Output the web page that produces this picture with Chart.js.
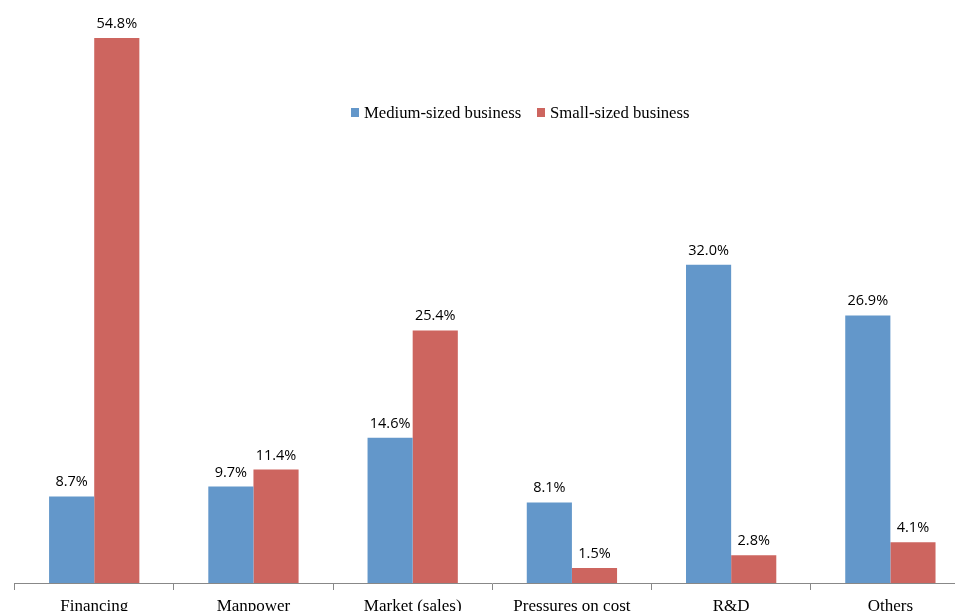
<!DOCTYPE html>
<html>
<head>
<meta charset="utf-8">
<script src="https://cdn.jsdelivr.net/npm/chart.js@4.4.1/dist/chart.umd.min.js"></script>
<style>
html,body{margin:0;padding:0;background:#fff;overflow:hidden;width:955px;height:611px;}
#wrap{position:relative;width:975px;height:630px;}
</style>
</head>
<body>
<div id="wrap"><canvas id="c" width="975" height="630"></canvas></div>
<script>
const categories = ["Financing", "Manpower", "Market (sales)", "Pressures on cost", "R&D", "Others"];
const seriesNames = ["Medium-sized business", "Small-sized business"];
const mediumValues = [8.7, 9.7, 14.6, 8.1, 32.0, 26.9];
const smallValues = [54.8, 11.4, 25.4, 1.5, 2.8, 4.1];
const colors = ["#6397CA", "#CD655F"];

const labelPlugin = {
  id: 'valueLabels',
  afterDatasetsDraw(chart) {
    const ctx = chart.ctx;
    ctx.save();
    ctx.font = '14.5px "Open Sans", "Liberation Sans", sans-serif';
    ctx.fillStyle = '#000';
    ctx.textAlign = 'center';
    ctx.textBaseline = 'alphabetic';
    chart.data.datasets.forEach((ds, i) => {
      const meta = chart.getDatasetMeta(i);
      meta.data.forEach((bar, j) => {
        ctx.fillText(ds.data[j].toFixed(1) + '%', bar.x, bar.y - 10);
      });
    });
    ctx.restore();
  }
};

const legendPlugin = {
  id: 'customLegend',
  afterDraw(chart) {
    const ctx = chart.ctx;
    ctx.save();
    ctx.font = '16.7px "Liberation Serif", "Times New Roman", serif';
    ctx.textBaseline = 'middle';
    ctx.textAlign = 'left';
    const xs = [351, 537];
    const y = 113;
    chart.data.datasets.forEach((ds, i) => {
      ctx.fillStyle = ds.backgroundColor;
      ctx.fillRect(xs[i], y - 5, 8, 9);
      ctx.fillStyle = '#000';
      ctx.fillText(ds.label, xs[i] + 13, y + 1);
    });
    ctx.restore();
  }
};

new Chart(document.getElementById('c'), {
  type: 'bar',
  data: {
    labels: categories,
    datasets: [
      { label: seriesNames[0], data: mediumValues, backgroundColor: colors[0] },
      { label: seriesNames[1], data: smallValues, backgroundColor: colors[1] }
    ]
  },
  options: {
    responsive: false,
    animation: false,
    layout: { padding: { left: 14.6, right: 5, top: 0, bottom: 0 } },
    plugins: { legend: { display: false }, tooltip: { enabled: false } },
    datasets: { bar: { categoryPercentage: 0.567, barPercentage: 1.0 } },
    scales: {
      x: {
        grid: { display: true, drawOnChartArea: false, drawTicks: true, tickLength: 7, color: '#888', offset: true },
        border: { display: true, color: '#888', width: 1 },
        ticks: { color: '#000', font: { family: '"Liberation Serif", "Times New Roman", serif', size: 17 }, padding: 6, maxRotation: 0, autoSkip: false },
        afterFit(scale) { scale.height = 47; }
      },
      y: {
        display: false,
        min: 0,
        max: 58.62
      }
    }
  },
  plugins: [labelPlugin, legendPlugin]
});
</script>
</body>
</html>
